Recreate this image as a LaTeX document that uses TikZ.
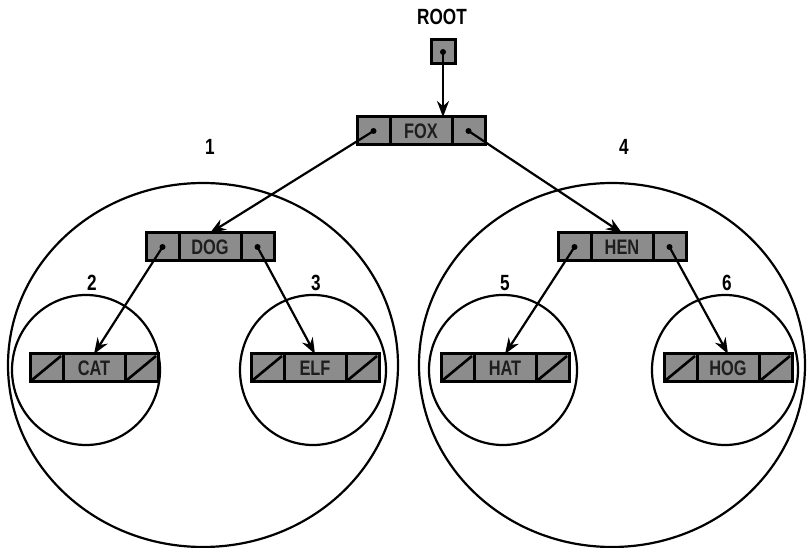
\documentclass[tikz,border=0pt]{standalone}
\usepackage{fontspec}
\setmainfont{Liberation Sans}
\newfontfamily\narrowbold[FakeStretch=0.78]{Liberation Sans}
\usepackage{tikz}
\usetikzlibrary{arrows.meta,positioning}
\definecolor{celda}{RGB}{140,140,140}
\definecolor{tinta}{RGB}{30,30,30}

\tikzset{
  cell/.style={draw,line width=3pt,fill=celda,minimum height=28pt,inner sep=0pt,outer sep=0pt},
  keycell/.style={cell,minimum width=62pt,text=tinta,font=\narrowbold\bfseries\fontsize{21}{21}\selectfont},
  ptrcell/.style={cell,minimum width=33pt},
  ring/.style={draw,line width=2.2pt},
  link/.style={-{Stealth[length=16pt,width=12pt]},line width=2.2pt},
  numlabel/.style={font=\narrowbold\bfseries\fontsize{22}{22}\selectfont}
}

% record = left pointer | key | right pointer
\newcommand{\record}[3]{%
  \node[keycell] (#1) at (#2) {#3};
  \node[ptrcell,left=0pt of #1] (#1-l) {};
  \node[ptrcell,right=0pt of #1] (#1-r) {};
}
\newcommand{\nullptr}[1]{\draw[line width=2.6pt] ([shift={(2pt,2pt)}]#1.south west) -- ([shift={(-2pt,-2pt)}]#1.north east);}

\begin{document}
\begin{tikzpicture}[x=1pt,y=-1pt]
\useasboundingbox (0,0) rectangle (807,548);

% subtrees
\draw[ring] (203,365) ellipse [x radius=195pt,y radius=182pt];
\draw[ring] (612,365) ellipse [x radius=193pt,y radius=182pt];
\draw[ring] (86,370) ellipse [x radius=74pt,y radius=75pt];
\draw[ring] (313,370) ellipse [x radius=73pt,y radius=75pt];
\draw[ring] (503,370) ellipse [x radius=74pt,y radius=75pt];
\draw[ring] (725,370) ellipse [x radius=73pt,y radius=75pt];

\node[numlabel] (n1) at (210,147) {1};
\node[numlabel] (n4) at (624,147) {4};
\node[numlabel] (n2) at (92,283) {2};
\node[numlabel] (n3) at (316,283) {3};
\node[numlabel] (n5) at (505,283) {5};
\node[numlabel] (n6) at (727,283) {6};

% root pointer
\node[numlabel] (rootlbl) at (442,17) {ROOT};
\node[cell,minimum width=24pt,minimum height=24pt] (root) at (443,52) {};

% records
\record{fox}{421,131}{FOX}
\record{dog}{210,247}{DOG}
\record{hen}{622,247}{HEN}
\record{cat}{94,368}{CAT}
\record{elf}{315,368}{ELF}
\record{hat}{505,368}{HAT}
\record{hog}{728,368}{HOG}

\foreach \n in {cat,elf,hat,hog}{
  \nullptr{\n-l}
  \nullptr{\n-r}
}

% links
\fill (root.center) circle (3pt);
\draw[link] (root.center) -- (root.center |- fox.north);
\foreach \a/\b in {fox-l/dog,fox-r/hen,dog-l/cat,dog-r/elf,hen-l/hat,hen-r/hog}{
  \fill (\a.center) circle (3pt);
  \draw[link] (\a.center) -- (\b.north);
}
\end{tikzpicture}
\end{document}
